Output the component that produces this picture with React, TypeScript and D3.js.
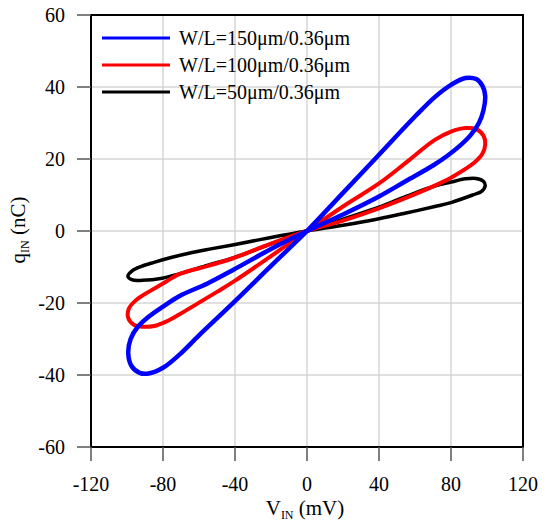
import React from 'react';
import * as d3 from 'd3';

// [V_IN (mV), q_IN (nC)], one closed pinched loop per device.
// Order: origin -> steep branch (+) -> tip -> shallow branch -> origin -> shallow (-) -> tip -> steep (-)
const blueLoop: [number, number][] = [
  [0, 0], [20, 10.6], [40, 21.2], [60, 31.8], [71, 37.2], [80, 40.6], [88, 42.5],
  [94, 42.2], [97.5, 40.3], [99, 37.5], [98, 33.5], [95.5, 30], [91, 26.7],
  [85, 23.7], [78, 20.9], [70, 18.2], [55, 13.9], [40, 9.6], [20, 4.6], [0, 0],
  [-20, -5], [-40.6, -10.7], [-55, -14.5], [-71, -18.1], [-80, -21], [-88, -23.8],
  [-94, -26.6], [-98, -30], [-99.3, -34], [-97.5, -37.5], [-93, -39.4], [-88, -39.6],
  [-80, -38], [-71, -34.4], [-60, -29], [-40, -19.5], [-20, -9.7],
];

const redLoop: [number, number][] = [
  [0, 0], [20, 6.8], [40, 13.2], [55, 19], [71, 25.3], [80, 27.6], [88, 28.6],
  [94, 28.3], [98, 26.5], [99, 24], [97.5, 21.5], [93, 19],
  [80, 14.8], [71, 12.6], [55, 9.2], [40, 6.3], [20, 2.9], [0, 0],
  [-20, -3.5], [-40.6, -7.5], [-55, -9.7], [-71, -12], [-80, -14.6], [-88, -16.9],
  [-95, -19.2], [-99, -21.6], [-99.3, -24.2], [-96, -26.1], [-91, -26.6],
  [-85, -26.4], [-78, -25.1], [-71, -23.2], [-60, -19.9], [-50, -16.9], [-40.6, -14], [-20, -7],
];

const blackLoop: [number, number][] = [
  [0, 0], [20, 3.3], [40, 6.6], [55, 9.6], [71, 12.5], [80, 13.6], [88, 14.5],
  [94, 14.6], [98, 13.8], [99, 12.6], [97, 11], [92, 10],
  [80, 7.9], [71, 6.8], [55, 5], [40, 3.4], [20, 1.6], [0, 0],
  [-20, -1.8], [-40.6, -3.8], [-55, -5.1], [-65, -6.1], [-75, -7.3], [-85, -8.7],
  [-92, -9.8], [-97, -11], [-99.5, -12.6], [-97, -13.6], [-91.5, -13.7],
  [-80.4, -13.1], [-71, -11.9], [-55, -9.5], [-40.6, -7.4], [-20, -3.6],
];

const seriesNames = ['W/L=150μm/0.36μm', 'W/L=100μm/0.36μm', 'W/L=50μm/0.36μm'];
const seriesColors = ['#0000ff', '#ff0000', '#000000'];
const seriesWidths = [4.5, 4, 3.5];
const xTicks = [-120, -80, -40, 0, 40, 80, 120];
const yTicks = [-60, -40, -20, 0, 20, 40, 60];

const FONT = '"Liberation Serif", "Times New Roman", serif';

export default function App() {
  const width = 547;
  const height = 521;
  const left = 91, right = 523, top = 15, bottom = 447;

  const x = d3.scaleLinear().domain([-120, 120]).range([left, right]);
  const y = d3.scaleLinear().domain([-60, 60]).range([bottom, top]);

  const line = d3.line<[number, number]>()
    .x(d => x(d[0]))
    .y(d => y(d[1]))
    .curve(d3.curveCatmullRomClosed.alpha(0.5));

  const loops = [blueLoop, redLoop, blackLoop];
  // draw black first so blue ends up on top
  const order = [2, 1, 0];

  return (
    <svg width={width} height={height} style={{ position: 'absolute', left: 0, top: 0 }}
      fontFamily={FONT}>
      <rect width={width} height={height} fill="#fff" />

      {/* grid */}
      {xTicks.map(t => (
        <line key={'gx' + t} x1={x(t)} x2={x(t)} y1={top} y2={bottom} stroke="#d6d6d6" strokeWidth={1.5} />
      ))}
      {yTicks.map(t => (
        <line key={'gy' + t} x1={left} x2={right} y1={y(t)} y2={y(t)} stroke="#d6d6d6" strokeWidth={1.5} />
      ))}

      {/* loops */}
      {order.map(i => (
        <path key={'s' + i} d={line(loops[i]) || ''} fill="none" stroke={seriesColors[i]}
          strokeWidth={seriesWidths[i]} strokeLinejoin="round" />
      ))}

      {/* frame */}
      <rect x={left} y={top} width={right - left} height={bottom - top} fill="none" stroke="#000" strokeWidth={2} />

      {/* ticks + labels */}
      {xTicks.map(t => (
        <g key={'tx' + t}>
          <line x1={x(t)} x2={x(t)} y1={bottom} y2={bottom + 14} stroke="#555" strokeWidth={1.5} />
          <text x={x(t)} y={491} textAnchor="middle" fontSize={20} fill="#000">{t}</text>
        </g>
      ))}
      {yTicks.map(t => (
        <g key={'ty' + t}>
          <line x1={left - 14} x2={left} y1={y(t)} y2={y(t)} stroke="#555" strokeWidth={1.5} />
          <text x={65} y={y(t) + 7} textAnchor="end" fontSize={20} fill="#000">{t}</text>
        </g>
      ))}

      {/* axis titles */}
      <text x={305} y={515} textAnchor="middle" fontSize={21} fill="#000">
        V<tspan fontSize={12} dy={4}>IN</tspan><tspan dy={-4}> (mV)</tspan>
      </text>
      <text transform="translate(25,230) rotate(-90)" textAnchor="middle" fontSize={21} fill="#000">
        q<tspan fontSize={12} dy={4}>IN</tspan><tspan dy={-4}> (nC)</tspan>
      </text>

      {/* legend */}
      {seriesNames.map((name, i) => (
        <g key={'lg' + i} transform={`translate(0,${38 + i * 27})`}>
          <line x1={102} x2={170} y1={0} y2={0} stroke={seriesColors[i]} strokeWidth={3} />
          <text x={179} y={7} fontSize={20} fill="#000">{name}</text>
        </g>
      ))}
    </svg>
  );
}
